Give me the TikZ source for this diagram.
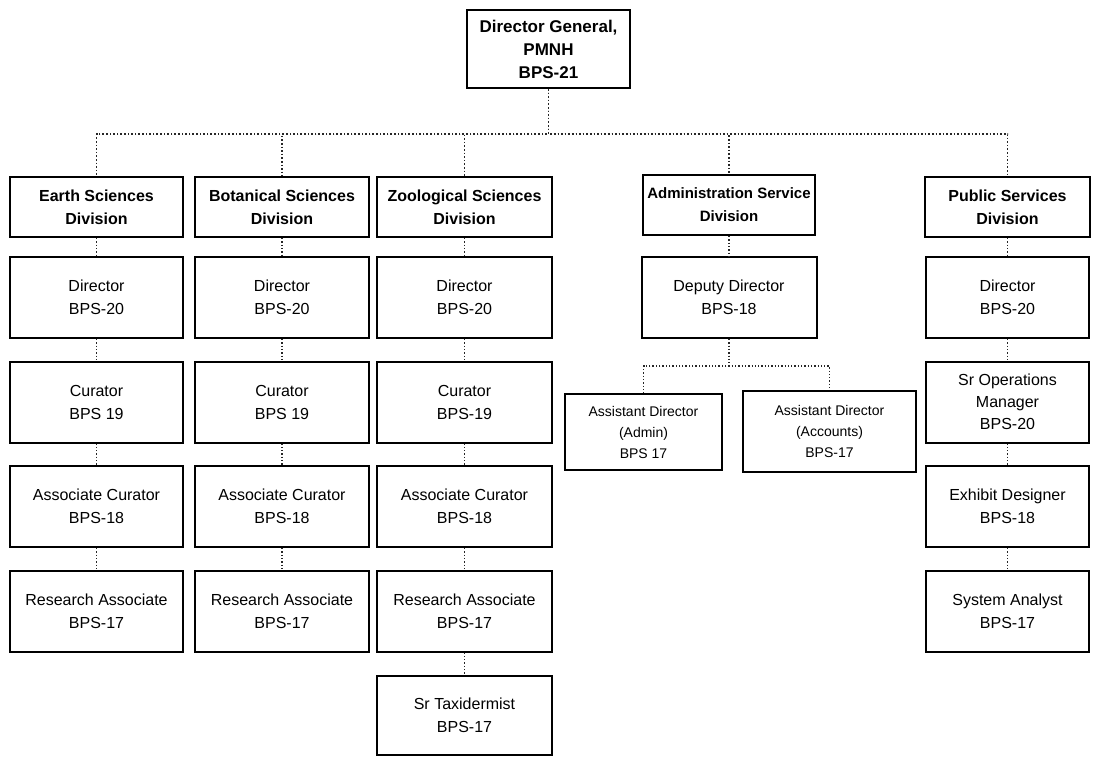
\documentclass[tikz,border=0pt]{standalone}
\usepackage{fontspec}
\setmainfont{Liberation Sans}

\begin{document}
\begin{tikzpicture}[x=1pt, y=-1pt, node distance=104.5pt, semithick]
    \tikzstyle{every node}=[font=\fontsize{16}{23}\selectfont]
    \tikzstyle{box}=[draw, line width=2pt, align=center, inner sep=2pt,
                     minimum width=173pt, minimum height=81pt]
    \tikzstyle{division}=[box, minimum height=60pt,
                          font=\bfseries\fontsize{16}{23}\selectfont]
    \tikzstyle{small}=[font=\fontsize{14}{21}\selectfont]
    \tikzstyle{link}=[black!85, dotted, line width=1.3pt]

    \useasboundingbox (0,0) rectangle (1096,756);

    \node[box, minimum width=163pt, minimum height=78pt,
          font=\bfseries\fontsize{17}{23}\selectfont]
                              (dg)      at (548.5,49)  {Director General,\\PMNH\\BPS-21};

    \node[division]           (earth)   at (96.5,207)  {Earth Sciences\\Division};
    \node[division, minimum width=174pt]
                              (botany)  at (282,207)   {Botanical Sciences\\Division};
    \node[division, minimum width=175pt]
                              (zoology) at (464.5,207) {Zoological Sciences\\Division};
    \node[division, minimum width=172pt, font=\bfseries\fontsize{15}{23}\selectfont]
                              (admin)   at (729,205)   {Administration Service\\Division};
    \node[division, minimum width=165pt]
                              (public)  at (1007.5,207) {Public Services\\Division};

    % Earth Sciences
    \node[box] (earthdir)   [node distance=90.5pt, below of=earth] {Director\\BPS-20};
    \node[box] (earthcur)   [below of=earthdir]   {Curator\\BPS 19};
    \node[box] (earthassoc) [below of=earthcur]   {Associate Curator\\BPS-18};
    \node[box] (earthres)   [below of=earthassoc] {Research Associate\\BPS-17};

    % Botanical Sciences
    \node[box, minimum width=174pt] (botdir)   [node distance=90.5pt, below of=botany] {Director\\BPS-20};
    \node[box, minimum width=174pt] (botcur)   [below of=botdir]   {Curator\\BPS 19};
    \node[box, minimum width=174pt] (botassoc) [below of=botcur]   {Associate Curator\\BPS-18};
    \node[box, minimum width=174pt] (botres)   [below of=botassoc] {Research Associate\\BPS-17};

    % Zoological Sciences
    \node[box, minimum width=175pt] (zoodir)   [node distance=90.5pt, below of=zoology] {Director\\BPS-20};
    \node[box, minimum width=175pt] (zoocur)   [below of=zoodir]   {Curator\\BPS-19};
    \node[box, minimum width=175pt] (zooassoc) [below of=zoocur]   {Associate Curator\\BPS-18};
    \node[box, minimum width=175pt] (zoores)   [below of=zooassoc] {Research Associate\\BPS-17};
    \node[box, minimum width=175pt, minimum height=79pt]
                                    (zootax)   [below of=zoores]   {Sr Taxidermist\\BPS-17};

    % Administration
    \node[box, minimum width=175pt] (deputy) [node distance=92.5pt, below of=admin] {Deputy Director\\BPS-18};
    \node[box, small, minimum width=157pt, minimum height=76pt]
               (astadmin)    at (643.5,432) {Assistant Director\\(Admin)\\BPS 17};
    \node[box, small]
               (astaccounts) at (829.5,431.5) {Assistant Director\\(Accounts)\\BPS-17};

    % Public Services
    \node[box, minimum width=163pt] (pubdir)     [node distance=90.5pt, below of=public] {Director\\BPS-20};
    \node[box, minimum width=163pt, font=\fontsize{16}{22}\selectfont]
                                    (pubops)     [below of=pubdir]   {Sr Operations\\Manager\\BPS-20};
    \node[box, minimum width=163pt] (pubexhibit) [below of=pubops]   {Exhibit Designer\\BPS-18};
    \node[box, minimum width=163pt] (pubanalyst) [below of=pubexhibit] {System Analyst\\BPS-17};

    \foreach \d in {earth, botany, zoology, admin, public}
        \draw[link, line width=1.6pt] (dg.south) -- ++(0,45) -| (\d.north);

    \foreach \a/\b in {earth/earthdir, earthdir/earthcur, earthcur/earthassoc, earthassoc/earthres,
                       botany/botdir, botdir/botcur, botcur/botassoc, botassoc/botres,
                       zoology/zoodir, zoodir/zoocur, zoocur/zooassoc, zooassoc/zoores, zoores/zootax,
                       admin/deputy,
                       public/pubdir, pubdir/pubops, pubops/pubexhibit, pubexhibit/pubanalyst}
        \draw[link] (\a) -- (\b);

    \draw[link] (deputy.south) -- ++(0,27) -| (astadmin.north);
    \draw[link] (deputy.south) -- ++(0,27) -| (astaccounts.north);
\end{tikzpicture}
\end{document}
